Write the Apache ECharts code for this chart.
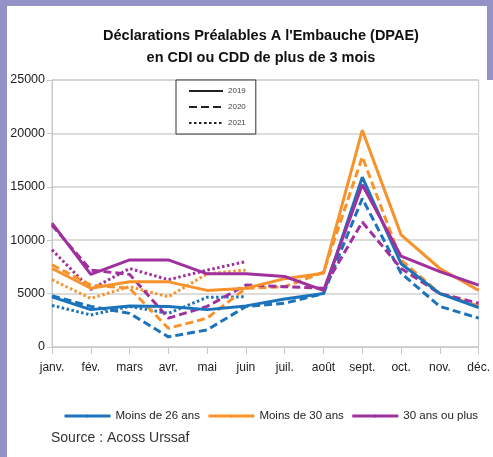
<!DOCTYPE html>
<html>
<head>
<meta charset="utf-8">
<script src="https://cdn.jsdelivr.net/npm/echarts@6/dist/echarts.min.js"></script>
<style>
  html, body { margin: 0; padding: 0; background: #fff; }
  #wrap { position: relative; width: 493px; height: 457px; background: #fff; overflow: hidden; }
  .bord { position: absolute; background: #9393c8; }
  #chart { position: absolute; left: 0; top: 0; width: 493px; height: 457px; }
</style>
</head>
<body>
<div id="wrap">
  <div id="chart"></div>
  <div class="bord" style="left:0;top:0;width:7px;height:457px"></div>
  <div class="bord" style="left:0;top:0;width:493px;height:6px"></div>
  <div class="bord" style="left:487px;top:0;width:6px;height:80px"></div>
</div>
<script>
  // données
  var mois = ['janv.', 'fév.', 'mars', 'avr.', 'mai', 'juin', 'juil.', 'août', 'sept.', 'oct.', 'nov.', 'déc.'];
  var groupes = ['Moins de 26 ans', 'Moins de 30 ans', '30 ans ou plus'];
  var annees = ['2019', '2020', '2021'];

  var moins26_2019 = [4700, 3500, 3850, 3800, 3500, 3850, 4500, 5000, 15900, 7800, 5000, 3700];
  var moins26_2020 = [4800, 3800, 3150, 950, 1600, 3800, 4100, 5000, 13900, 6900, 3800, 2700];
  var moins26_2021 = [3900, 3000, 3800, 3150, 4650, 4700];

  var moins30_2019 = [7350, 5500, 6100, 6100, 5300, 5500, 6400, 6900, 20300, 10500, 7350, 5300];
  var moins30_2020 = [7700, 5800, 5500, 1750, 2700, 5500, 5650, 7000, 17800, 8150, 5000, 3850];
  var moins30_2021 = [6300, 4550, 5650, 4700, 6850, 7200];

  var plus30_2019 = [11600, 6800, 8150, 8150, 6850, 6850, 6600, 5300, 15200, 8500, 7050, 5800];
  var plus30_2020 = [11400, 7200, 6800, 2700, 3800, 5800, 5650, 5500, 11700, 7350, 5000, 4100];
  var plus30_2021 = [9100, 5400, 7350, 6300, 7200, 8000];

  var couleurs = ['#1b73bb', '#f8922b', '#a0309e'];
  var traits = ['solid', [8, 4], [2.5, 2.5]];
  var police = '"Liberation Sans", Arial, sans-serif';

  var donnees = [
    [moins26_2019, moins26_2020, moins26_2021],
    [moins30_2019, moins30_2020, moins30_2021],
    [plus30_2019, plus30_2020, plus30_2021]
  ];

  var series = [];
  for (var g = 0; g < 3; g++) {
    for (var a = 0; a < 3; a++) {
      series.push({
        name: a === 0 ? groupes[g] : groupes[g] + ' ' + annees[a],
        type: 'line',
        data: donnees[g][a],
        symbol: 'none',
        color: couleurs[g],
        lineStyle: { width: 3, type: traits[a], cap: 'butt' },
        z: 3 - a
      });
    }
  }
  // series vides pour la légende des années
  for (var a = 0; a < 3; a++) {
    series.push({
      name: annees[a],
      type: 'line',
      data: [],
      symbol: 'none',
      color: '#222',
      lineStyle: { width: 2, type: traits[a], cap: 'butt' }
    });
  }

  var chart = echarts.init(document.getElementById('chart'));
  chart.setOption({
    animation: false,
    textStyle: { fontFamily: police },
    title: {
      text: "Déclarations Préalables A l'Embauche (DPAE)\nen CDI ou CDD de plus de 3 mois",
      left: 256,
      top: 20,
      textAlign: 'center',
      textStyle: { fontFamily: police, fontSize: 14.5, fontWeight: 'bold', color: '#111', lineHeight: 22 }
    },
    legend: [
      {
        data: groupes,
        left: 58,
        top: 405,
        width: 430,
        itemWidth: 46,
        itemHeight: 4,
        itemGap: 7,
        lineStyle: { width: 3 },
        textStyle: { fontFamily: police, fontSize: 11.5, color: '#222' }
      },
      {
        data: annees,
        orient: 'vertical',
        left: 176,
        top: 80,
        width: 70,
        padding: [7, 10, 7, 12],
        itemGap: 8,
        itemWidth: 34,
        itemHeight: 2,
        borderColor: '#333',
        borderWidth: 1,
        backgroundColor: '#fff',
        textStyle: { fontFamily: police, fontSize: 8, color: '#444' }
      }
    ],
    graphic: [{
      type: 'text',
      left: 51,
      top: 431,
      style: { text: 'Source : Acoss Urssaf', font: '14px ' + police, fill: '#333' }
    }],
    grid: {
      left: 52, right: 14, top: 80, bottom: 110,
      show: true, borderColor: '#c8c8c8', borderWidth: 1
    },
    xAxis: {
      type: 'category',
      data: mois,
      boundaryGap: false,
      axisLine: { lineStyle: { color: '#c8c8c8', width: 1 } },
      axisTick: { show: true, length: 7, interval: 0, lineStyle: { color: '#c8c8c8' } },
      axisLabel: { margin: 15, interval: 0, fontSize: 12, color: '#222', fontFamily: police },
      splitLine: { show: false }
    },
    yAxis: {
      type: 'value',
      min: 0,
      max: 25000,
      interval: 5000,
      axisLine: { show: true, lineStyle: { color: '#c8c8c8' } },
      axisTick: { show: true, length: 5, lineStyle: { color: '#c8c8c8' } },
      axisLabel: { margin: 7, fontSize: 12.5, color: '#222', fontFamily: police, formatter: function (v) { return String(v); } },
      splitLine: { lineStyle: { color: '#d0d0d0', width: 1.5 } }
    },
    series: series
  });
</script>
</body>
</html>
